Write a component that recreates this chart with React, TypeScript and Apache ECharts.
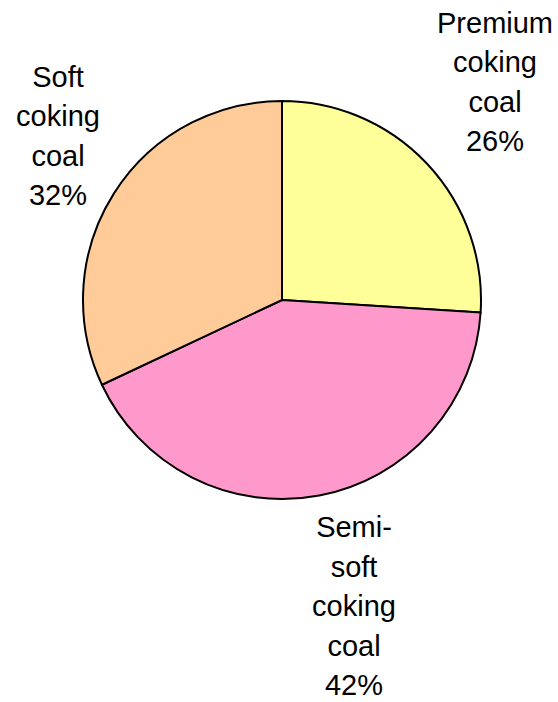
import React, { useEffect, useRef } from "react";
import * as echarts from "echarts";

// Coking coal mix, share of each grade in percent
const categories = ["Premium coking coal", "Semi-soft coking coal", "Soft coking coal"];
const labelLines = [
  ["Premium", "coking", "coal"],
  ["Semi-", "soft", "coking", "coal"],
  ["Soft", "coking", "coal"],
];
const shares = [26, 42, 32];
const colors = ["#FFFF99", "#FF99CC", "#FFCC99"];

// Label block centres (px), one per slice
const labelAnchors = [
  { x: 495, y: 82 },
  { x: 354, y: 606 },
  { x: 58, y: 136 },
];

export default function App() {
  const ref = useRef<HTMLDivElement>(null);

  useEffect(() => {
    if (!ref.current) return;
    const chart = echarts.init(ref.current, null, { renderer: "svg" });
    chart.setOption({
      animation: false,
      backgroundColor: "#ffffff",
      series: [
        {
          type: "pie",
          center: [282, 300],
          radius: [0, 199],
          startAngle: 90,
          clockwise: true,
          avoidLabelOverlap: false,
          itemStyle: { borderColor: "#000000", borderWidth: 2 },
          label: {
            show: true,
            color: "#000000",
            fontFamily: "'Liberation Sans', Arial, sans-serif",
            fontSize: 29,
            lineHeight: 39.5,
            align: "center",
            formatter: (p: any) =>
              labelLines[p.dataIndex].join("\n") + "\n" + Math.round(p.percent) + "%",
          },
          labelLine: { show: false },
          labelLayout: (p: any) => ({
            x: labelAnchors[p.dataIndex].x,
            y: labelAnchors[p.dataIndex].y,
            align: "center",
            verticalAlign: "middle",
          }),
          emphasis: { disabled: true },
          data: categories.map((name, i) => ({
            name,
            value: shares[i],
            itemStyle: { color: colors[i] },
          })),
        },
      ],
    });
    return () => chart.dispose();
  }, []);

  return (
    <div
      ref={ref}
      style={{ position: "fixed", left: 0, top: 0, width: 558, height: 702 }}
    />
  );
}
